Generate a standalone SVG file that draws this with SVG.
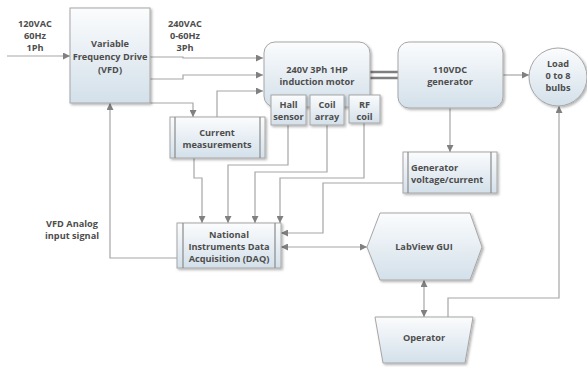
<svg xmlns="http://www.w3.org/2000/svg" width="587" height="367" viewBox="0 0 587 367">
<defs>
<linearGradient id="g" x1="0" y1="0" x2="0" y2="1">
<stop offset="0" stop-color="#fbfcfd"/>
<stop offset="1" stop-color="#d3e0ea"/>
</linearGradient>
<filter id="sh" x="-10%" y="-10%" width="130%" height="130%">
<feDropShadow dx="1.5" dy="1.5" stdDeviation="1" flood-color="#000" flood-opacity="0.3"/>
</filter>
<marker id="a" viewBox="0 0 10 10" refX="10" refY="5" markerWidth="7" markerHeight="7" orient="auto-start-reverse" markerUnits="userSpaceOnUse">
<path d="M0,0 L10,5 L0,10 z" fill="#808080"/>
</marker>
</defs>
<style>
.n{fill:url(#g);stroke:#a6a6a6;stroke-width:1;filter:url(#sh)}
.bar{stroke:#8a8a8a;stroke-width:1.2;fill:none}
.t{font-family:"Open Sans","Liberation Sans",sans-serif;font-weight:bold;font-size:9.2px;fill:#4d4d4d;text-anchor:middle}
.l{fill:none;stroke:#a6a6a6;stroke-width:1.2}
.ar{marker-end:url(#a)}
.ar2{marker-start:url(#a);marker-end:url(#a)}
</style>
<rect width="587" height="367" fill="#fff"/>
<g id="connectors">
<path class="l ar" d="M7,56 H70"/>
<path class="l ar" d="M150,57 H183 V58 H263"/>
<path class="l ar" d="M150,79 H183 V75 H263"/>
<path class="l ar" d="M217,117 V91 H263"/>
<path class="l ar" d="M150,103 H193 V117"/>
<path d="M370,72 H398 M370,78 H398" stroke="#7f7f7f" stroke-width="2.5" fill="none"/>
<path class="l ar" d="M503,75 H529"/>
<path class="l ar" d="M450,108 V152"/>
<path class="l ar" d="M194,158 V178 H202 V223"/>
<path class="l ar" d="M288,125 V165 H228 V223"/>
<path class="l ar" d="M327,125 V172 H255 V223"/>
<path class="l ar" d="M364,122 V178 H280 V223"/>
<path class="l ar" d="M403,183 H323 V233 H281"/>
<path class="l ar2" d="M281,247 H367"/>
<path class="l ar2" d="M424,280 V317"/>
<path class="l ar" d="M448,317 V298 H559 V106"/>
<path class="l ar" d="M177,258 H110 V103"/>
</g>
<g id="vfd">
<rect class="n" x="70" y="8" width="80" height="95"/>
<text class="t" x="110" y="47">Variable</text>
<text class="t" x="110" y="60">Frequency Drive</text>
<text class="t" x="110" y="73">(VFD)</text>
</g>
<g id="in-label">
<text class="t" x="35" y="27">120VAC</text>
<text class="t" x="35" y="39">60Hz</text>
<text class="t" x="35" y="51">1Ph</text>
</g>
<g id="out-label">
<text class="t" x="185" y="27">240VAC</text>
<text class="t" x="185" y="39">0-60Hz</text>
<text class="t" x="185" y="51">3Ph</text>
</g>
<g id="motor">
<rect class="n" x="264" y="42" width="106" height="65" rx="11"/>
<text class="t" x="317" y="73">240V 3Ph 1HP</text>
<text class="t" x="317" y="85">induction motor</text>
</g>
<g id="hall">
<rect class="n" x="271" y="95" width="35" height="30"/>
<text class="t" x="288.5" y="108">Hall</text>
<text class="t" x="288.5" y="120">sensor</text>
</g>
<g id="coil">
<rect class="n" x="310" y="95" width="34" height="30"/>
<text class="t" x="327" y="108">Coil</text>
<text class="t" x="327" y="120">array</text>
</g>
<g id="rf">
<rect class="n" x="349" y="95" width="31" height="28"/>
<text class="t" x="364.5" y="108">RF</text>
<text class="t" x="364.5" y="120">coil</text>
</g>
<g id="generator">
<rect class="n" x="398" y="42" width="105" height="66" rx="11"/>
<text class="t" x="450" y="73">110VDC</text>
<text class="t" x="450" y="85">generator</text>
</g>
<g id="load">
<circle class="n" cx="558" cy="77" r="29"/>
<text class="t" x="558" y="67">Load</text>
<text class="t" x="558" y="79">0 to 8</text>
<text class="t" x="558" y="91">bulbs</text>
</g>
<g id="current">
<rect class="n" x="170" y="117" width="95" height="41"/>
<path class="bar" d="M175,117 V158 M260,117 V158"/>
<text class="t" x="217" y="136">Current</text>
<text class="t" x="217" y="148">measurements</text>
</g>
<g id="genvc">
<rect class="n" x="403" y="152" width="94" height="41"/>
<path class="bar" d="M408,152 V193 M491,152 V193"/>
<text class="t" x="411" y="171" style="text-anchor:start">Generator</text>
<text class="t" x="411" y="183" style="text-anchor:start">voltage/current</text>
</g>
<g id="daq">
<rect class="n" x="177" y="223" width="104" height="45"/>
<path class="bar" d="M183,223 V268 M275,223 V268"/>
<text class="t" x="229" y="238">National</text>
<text class="t" x="229" y="250">Instruments Data</text>
<text class="t" x="229" y="262">Acquisition (DAQ)</text>
</g>
<g id="vfd-label">
<text class="t" x="72" y="227">VFD Analog</text>
<text class="t" x="72" y="239">input signal</text>
</g>
<g id="labview">
<polygon class="n" points="380,213 470,213 482,247 470,280 380,280 367,247"/>
<text class="t" x="424" y="250">LabView GUI</text>
</g>
<g id="operator">
<polygon class="n" points="375,317 473,317 465,363 383,363"/>
<text class="t" x="424" y="341">Operator</text>
</g>
</svg>
